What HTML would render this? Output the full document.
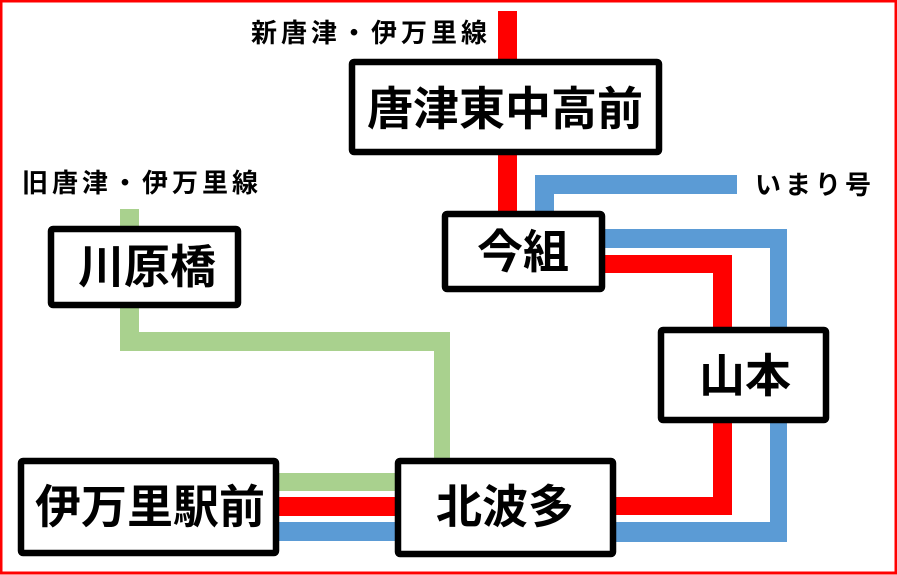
<!DOCTYPE html>
<html><head><meta charset="utf-8"><style>
html,body{margin:0;padding:0;background:#fff}
svg{display:block}
text{font-family:"Liberation Sans","Noto Sans CJK JP",sans-serif;font-weight:bold;fill:#000}
</style></head><body>
<svg width="897" height="575" viewBox="0 0 897 575" xmlns="http://www.w3.org/2000/svg">
<rect x="1" y="1" width="895" height="572" fill="#fff" stroke="#ff0000" stroke-width="3"/>
<!-- green -->
<rect x="120" y="209" width="19" height="20" fill="#a9d18e"/>
<rect x="120" y="305" width="19" height="46" fill="#a9d18e"/>
<rect x="120" y="332" width="330" height="19" fill="#a9d18e"/>
<rect x="434" y="332" width="16" height="128" fill="#a9d18e"/>
<rect x="276" y="473" width="122" height="18" fill="#a9d18e"/>
<!-- red -->
<rect x="498" y="11" width="19" height="202" fill="#ff0000"/>
<rect x="276" y="497" width="122" height="19" fill="#ff0000"/>
<rect x="602" y="255" width="130" height="18" fill="#ff0000"/>
<rect x="713" y="255" width="19" height="260" fill="#ff0000"/>
<rect x="613" y="497" width="119" height="18" fill="#ff0000"/>
<!-- blue -->
<rect x="535" y="175" width="202" height="19" fill="#5b9bd5"/>
<rect x="535" y="175" width="19" height="38" fill="#5b9bd5"/>
<rect x="602" y="229" width="185" height="19" fill="#5b9bd5"/>
<rect x="770" y="229" width="17" height="313" fill="#5b9bd5"/>
<rect x="613" y="522" width="174" height="20" fill="#5b9bd5"/>
<rect x="276" y="522" width="122" height="19" fill="#5b9bd5"/>
<!-- boxes -->
<g fill="#fff" stroke="#000" stroke-width="6.5">
<rect x="352" y="62" width="307" height="90" rx="2"/>
<rect x="445" y="214" width="157" height="75" rx="2"/>
<rect x="661" y="330" width="165" height="90" rx="2"/>
<rect x="398" y="461" width="215" height="93" rx="2"/>
<rect x="51" y="229" width="187" height="76" rx="2"/>
<rect x="21" y="461" width="255" height="92" rx="2"/>
</g>
<g font-size="46" text-anchor="middle" dominant-baseline="central">
<text x="505" y="109">唐津東中高前</text>
<text x="523" y="252">今組</text>
<text x="745" y="376">山本</text>
<text x="505" y="507">北波多</text>
<text x="147" y="267">川原橋</text>
<text x="150" y="507">伊万里駅前</text>
</g>
<g font-size="26" letter-spacing="4">
<text x="251" y="42">新唐津・伊万里線</text>
<text x="22" y="192">旧唐津・伊万里線</text>
<text x="755" y="194">いまり号</text>
</g>
</svg>
</body></html>
